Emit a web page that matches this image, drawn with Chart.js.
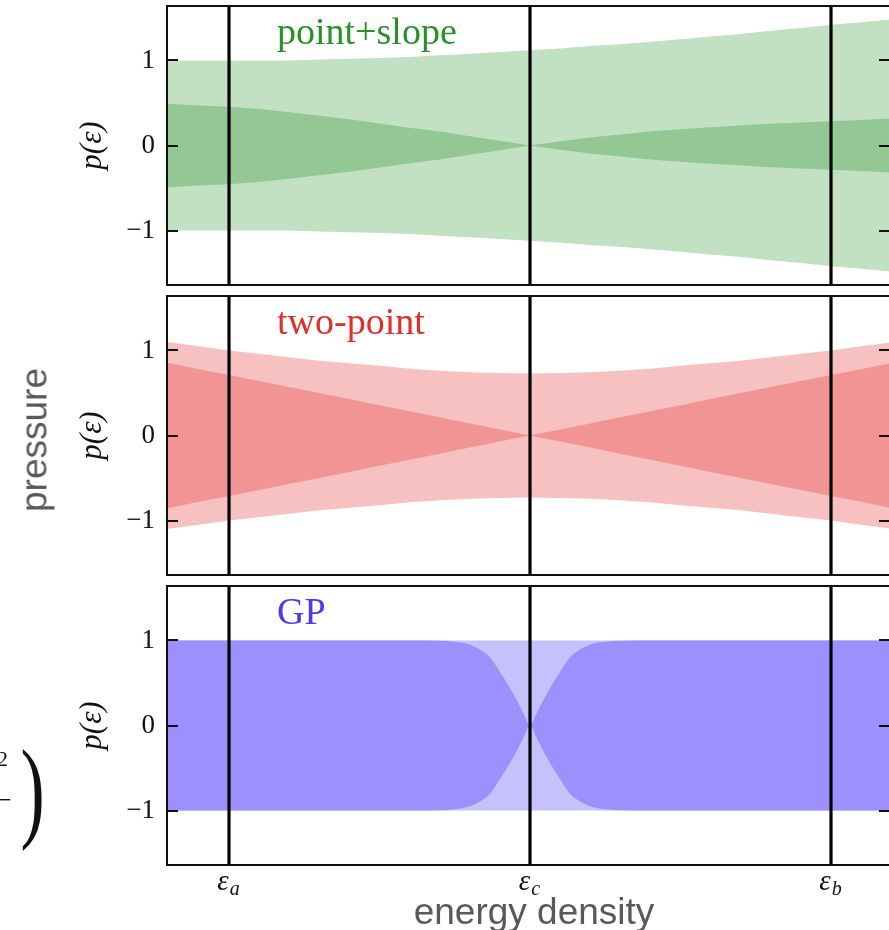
<!DOCTYPE html>
<html>
<head>
<meta charset="utf-8">
<script src="https://cdn.jsdelivr.net/npm/chart.js@4.4.1/dist/chart.umd.min.js"></script>
<style>
  html, body { margin: 0; padding: 0; background: #fff; overflow: hidden; }
  #fig { position: relative; width: 889px; height: 930px; overflow: hidden; background: #fff; }
  #fig canvas { position: absolute; left: 0; }
  .lbl { position: absolute; white-space: nowrap; line-height: 1; }
  .sans { font-family: "Liberation Sans", Arial, sans-serif; color: #595959; font-size: 37px; }
  .serif { font-family: "Liberation Serif", "DejaVu Serif", serif; color: #111; }
</style>
</head>
<body>
<div id="fig">
  <canvas id="c1" width="900" height="290" style="top:0px"></canvas>
  <canvas id="c2" width="900" height="290" style="top:290px"></canvas>
  <canvas id="c3" width="900" height="350" style="top:580px"></canvas>

  <div class="lbl sans" style="left:534px; top:893px; transform:translateX(-50%);">energy density</div>
  <div class="lbl sans" style="left:34px; top:440px; transform:translate(-50%,-50%) rotate(-90deg);">pressure</div>

  <!-- edge of a neighbouring formula -->
  <div class="lbl serif" style="left:-3px; top:748px; font-size:22px;">2</div>
  <div class="lbl serif" style="left:-4px; top:786px; font-size:28px;">−</div>
  <div class="lbl serif" style="left:14px; top:733px; font-size:112px; transform:scaleX(0.65);">)</div>
</div>

<script>
// ---- axis setup ----
const Y_MIN = -1.64, Y_MAX = 1.64;
const X_MIN = -1.206, X_MAX = 1.196;
const eps = [-1, 0, 1];                 // ε_a, ε_c, ε_b
const epsSubs = ['a', 'c', 'b'];
const yTicks = [-1, 0, 1];
const yTickLabels = ['−1', '0', '1'];

// ---- point+slope and two-point bands (half-widths, symmetric about 0) ----
const xBand = [-1.25, -1.1, -1.0, -0.9, -0.8, -0.7, -0.6, -0.5, -0.4, -0.3, -0.2, -0.1, 0,
               0.1, 0.2, 0.3, 0.4, 0.5, 0.6, 0.7, 0.8, 0.9, 1.0, 1.1, 1.25];

const psOuter = [1.00, 1.00, 1.00, 1.00, 1.00, 1.01, 1.02, 1.03, 1.04, 1.06, 1.08, 1.10, 1.12,
                 1.14, 1.17, 1.19, 1.22, 1.25, 1.28, 1.31, 1.35, 1.38, 1.42, 1.45, 1.50];
const psInner = [0.50, 0.47, 0.455, 0.43, 0.39, 0.35, 0.31, 0.26, 0.21, 0.165, 0.11, 0.055, 0,
                 0.05, 0.095, 0.13, 0.165, 0.19, 0.215, 0.235, 0.255, 0.27, 0.285, 0.30, 0.325];

const tpOuter = [1.12, 1.05, 1.00, 0.96, 0.92, 0.88, 0.85, 0.82, 0.785, 0.76, 0.745, 0.735, 0.73,
                 0.735, 0.745, 0.76, 0.785, 0.82, 0.85, 0.88, 0.92, 0.96, 1.00, 1.05, 1.12];
const tpInner = [0.89, 0.78, 0.71, 0.64, 0.57, 0.50, 0.43, 0.355, 0.285, 0.215, 0.14, 0.07, 0,
                 0.07, 0.14, 0.215, 0.285, 0.355, 0.43, 0.50, 0.57, 0.64, 0.71, 0.78, 0.89];

// ---- GP bands ----
const xGP = [-1.25, -0.8, -0.4, -0.3, -0.25, -0.2, -0.16, -0.13, -0.10, -0.08, -0.06, -0.04, -0.02, 0,
             0.02, 0.04, 0.06, 0.08, 0.10, 0.13, 0.16, 0.2, 0.25, 0.3, 0.4, 0.8, 1.25];
const gpOuter = [1, 1, 1, 1, 1, 1, 1, 1, 1, 1, 1, 1, 1, 1,
                 1, 1, 1, 1, 1, 1, 1, 1, 1, 1, 1, 1, 1];
const gpInner = [1, 1, 1, 0.997, 0.985, 0.95, 0.88, 0.79, 0.63, 0.52, 0.40, 0.27, 0.13, 0,
                 0.13, 0.27, 0.40, 0.52, 0.63, 0.79, 0.88, 0.95, 0.985, 0.997, 1, 1, 1];

const SERIF = '"Liberation Serif", "DejaVu Serif", serif';

function edge(xs, half, sign) {
  return xs.map((x, i) => ({ x: x, y: sign * half[i] }));
}

function panelDatasets(xs, outer, inner, light, dark, smooth) {
  const base = {
    type: 'line', borderWidth: 0, borderColor: 'rgba(0,0,0,0)', pointRadius: 0,
    tension: 0, cubicInterpolationMode: smooth ? 'monotone' : 'default'
  };
  const sets = [
    Object.assign({}, base, { data: edge(xs, outer, 1), fill: '+1', backgroundColor: light, order: 3 }),
    Object.assign({}, base, { data: edge(xs, outer, -1), fill: false, order: 3 }),
    Object.assign({}, base, { data: edge(xs, inner, 1), fill: '+1', backgroundColor: dark, order: 2 }),
    Object.assign({}, base, { data: edge(xs, inner, -1), fill: false, order: 2 })
  ];
  eps.forEach(e => sets.push({
    type: 'line', data: [{ x: e, y: Y_MIN }, { x: e, y: Y_MAX }],
    borderColor: '#000', borderWidth: 3.2, pointRadius: 0, fill: false, order: 1
  }));
  return sets;
}

// frame, inward ticks and the panel caption
const framePlugin = {
  id: 'frame',
  afterDatasetsDraw(chart, args, opts) {
    const { ctx, chartArea: a, scales: { y } } = chart;
    ctx.save();
    ctx.strokeStyle = '#111';
    ctx.lineWidth = 2;
    ctx.strokeRect(a.left, a.top, a.right - a.left, a.bottom - a.top);
    ctx.beginPath();
    yTicks.forEach(v => {
      const py = Math.round(y.getPixelForValue(v));
      ctx.moveTo(a.left, py); ctx.lineTo(a.left + 11, py);
      ctx.moveTo(a.right, py); ctx.lineTo(a.right - 11, py);
    });
    ctx.stroke();
    if (opts.caption) {
      ctx.fillStyle = opts.color;
      ctx.font = '38px ' + SERIF;
      ctx.textAlign = 'left';
      ctx.textBaseline = 'alphabetic';
      ctx.fillText(opts.caption, a.left + 110, a.top + 38);
    }
    ctx.restore();
  }
};

// ε_a, ε_c, ε_b under the bottom panel
const epsLabelPlugin = {
  id: 'epsLabels',
  afterDraw(chart) {
    const { ctx, chartArea: a, scales: { x } } = chart;
    ctx.save();
    ctx.fillStyle = '#111';
    ctx.textBaseline = 'alphabetic';
    ctx.textAlign = 'left';
    eps.forEach((e, i) => {
      const px = x.getPixelForValue(e);
      ctx.font = 'italic 29px ' + SERIF;
      const w1 = ctx.measureText('ε').width;
      ctx.font = 'italic 20px ' + SERIF;
      const w2 = ctx.measureText(epsSubs[i]).width;
      const x0 = px - (w1 + w2) / 2 - 1;
      ctx.font = 'italic 29px ' + SERIF;
      ctx.fillText('ε', x0, a.bottom + 25);
      ctx.font = 'italic 20px ' + SERIF;
      ctx.fillText(epsSubs[i], x0 + w1 + 1, a.bottom + 30);
    });
    ctx.restore();
  }
};

function makePanel(id, datasets, caption, color, bottomPad, extraPlugins) {
  return new Chart(document.getElementById(id), {
    data: { datasets: datasets },
    options: {
      responsive: false,
      animation: false,
      events: [],
      layout: { padding: { left: 0, right: 10, top: 6, bottom: bottomPad } },
      plugins: {
        legend: { display: false },
        tooltip: { enabled: false },
        frame: { caption: caption, color: color }
      },
      scales: {
        x: { type: 'linear', min: X_MIN, max: X_MAX, display: false },
        y: {
          type: 'linear', min: Y_MIN, max: Y_MAX,
          afterBuildTicks: s => { s.ticks = yTicks.map(v => ({ value: v })); },
          afterFit: s => { s.width = 167; s.paddingTop = 0; s.paddingBottom = 0; },
          grid: { display: false, drawTicks: false },
          border: { display: false },
          ticks: {
            padding: 12, color: '#111',
            font: { family: SERIF, size: 27 },
            callback: v => yTickLabels[yTicks.indexOf(v)]
          },
          title: {
            display: true, text: 'p(ε)', color: '#111',
            font: { family: SERIF, size: 31, style: 'italic', lineHeight: 1.2 },
            padding: { top: 74, bottom: 0 }
          }
        }
      }
    },
    plugins: [framePlugin].concat(extraPlugins || [])
  });
}

makePanel('c1',
  panelDatasets(xBand, psOuter, psInner, 'rgb(194,224,194)', 'rgb(147,199,147)', false),
  'point+slope', 'rgb(40,145,40)', 5);

makePanel('c2',
  panelDatasets(xBand, tpOuter, tpInner, 'rgb(247,193,193)', 'rgb(243,148,148)', false),
  'two-point', 'rgb(228,45,40)', 5);

makePanel('c3',
  panelDatasets(xGP, gpOuter, gpInner, 'rgb(198,192,252)', 'rgb(157,144,252)', true),
  'GP', 'rgb(75,55,245)', 65, [epsLabelPlugin]);
</script>
</body>
</html>
